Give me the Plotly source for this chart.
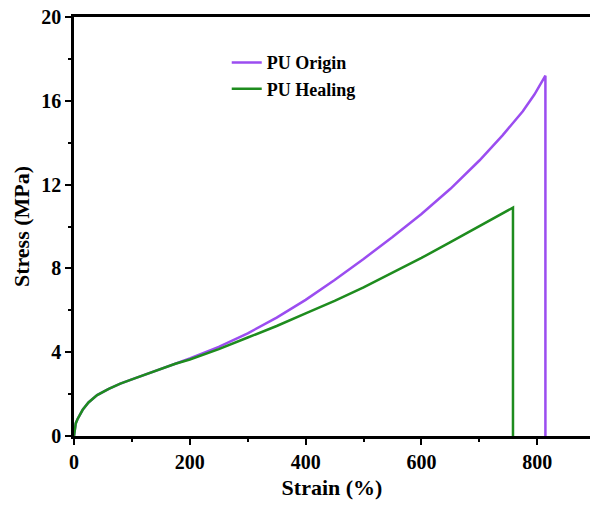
import plotly.graph_objects as go

strain_origin = [0, 1, 3, 6, 10, 15, 25, 40, 60, 80, 100, 125, 150, 175, 200, 250, 300, 350, 400, 450, 500, 550, 600, 650, 700, 740, 775, 795, 814, 814]
stress_origin = [0, 0.35, 0.6, 0.8, 1.0, 1.25, 1.6, 1.95, 2.25, 2.5, 2.7, 2.95, 3.2, 3.45, 3.7, 4.25, 4.9, 5.65, 6.5, 7.45, 8.45, 9.5, 10.6, 11.8, 13.15, 14.35, 15.5, 16.3, 17.2, 0]

strain_healing = [0, 1, 3, 6, 10, 15, 25, 40, 60, 80, 100, 125, 150, 175, 200, 250, 300, 350, 400, 450, 500, 550, 600, 650, 700, 758, 758]
stress_healing = [0, 0.35, 0.6, 0.8, 1.0, 1.25, 1.6, 1.95, 2.25, 2.5, 2.7, 2.95, 3.2, 3.45, 3.65, 4.15, 4.7, 5.25, 5.85, 6.45, 7.1, 7.8, 8.5, 9.25, 10.0, 10.9, 0]

x_ticks = [0, 200, 400, 600, 800]
y_ticks = [0, 4, 8, 12, 16, 20]

serif = "Liberation Serif, Times New Roman, serif"

fig = go.Figure()
fig.add_trace(go.Scatter(x=strain_origin, y=stress_origin, mode="lines", name="PU Origin",
                         line=dict(color="#9B4DF0", width=2.5)))
fig.add_trace(go.Scatter(x=strain_healing, y=stress_healing, mode="lines", name="PU Healing",
                         line=dict(color="#1E8C1E", width=2.5)))

axis_common = dict(showgrid=False, zeroline=False, showline=True, linecolor="black", linewidth=2.5,
                   ticks="outside", ticklen=6, tickwidth=2, tickcolor="black",
                   tickfont=dict(family=serif, size=20, color="black", weight="bold"))

fig.update_xaxes(range=[0, 891], tickvals=x_ticks, mirror=True,
                 minor=dict(ticks="outside", ticklen=3, tickwidth=2, tickcolor="black", dtick=100, tick0=0),
                 title=dict(text="Strain (%)", font=dict(family=serif, size=22, color="black", weight="bold"), standoff=8),
                 **axis_common)
fig.update_yaxes(range=[0, 20], tickvals=y_ticks, mirror=False,
                 minor=dict(ticks="outside", ticklen=3, tickwidth=2, tickcolor="black", dtick=2, tick0=0),
                 title=dict(text="Stress (MPa)", font=dict(family=serif, size=22, color="black", weight="bold"), standoff=6),
                 **axis_common)

fig.update_layout(width=590, height=507, margin=dict(l=74, r=0, t=17, b=71),
                  plot_bgcolor="white", paper_bgcolor="white",
                  legend=dict(x=0.296, y=0.935, xanchor="left", yanchor="top", bgcolor="rgba(0,0,0,0)",
                              font=dict(family=serif, size=18, color="black", weight="bold"),
                              tracegroupgap=0, itemwidth=30))

fig.write_html("out.html", config={"displayModeBar": False},
               post_script="document.body.style.margin='0px';document.body.style.overflow='hidden';")
